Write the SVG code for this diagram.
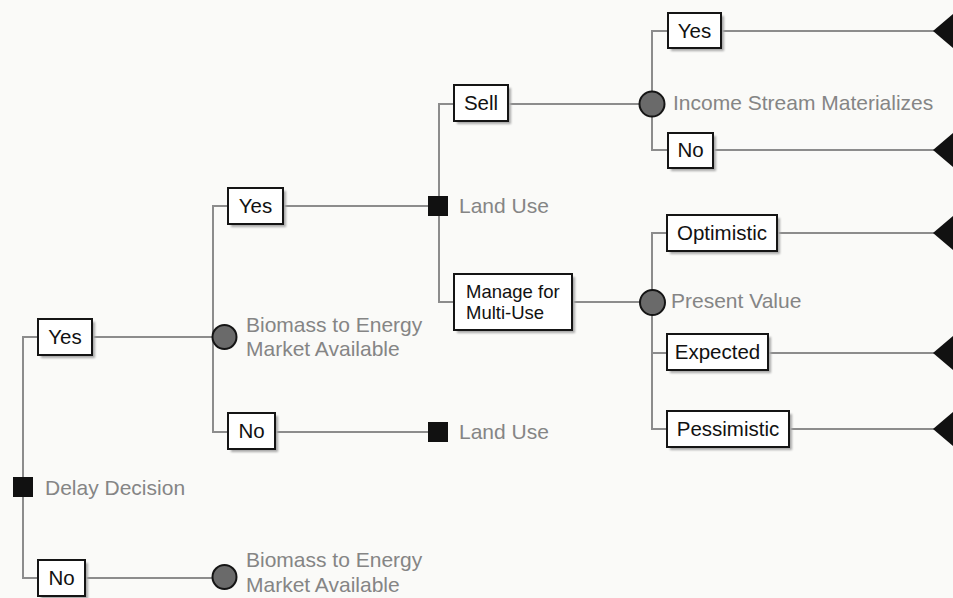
<svg xmlns="http://www.w3.org/2000/svg" width="953" height="598" viewBox="0 0 953 598">
  <style>
    .bg { fill: #fafaf8; }
    .wire { fill: none; stroke: #8c8c8c; stroke-width: 2; }
    .box { fill: #ffffff; stroke: #151515; stroke-width: 2; }
    .shadow { fill: #a8a8a8; }
    .label { font-family: "Liberation Sans", Arial, sans-serif; font-size: 20.5px; fill: #111111; text-anchor: middle; }
    .small { font-size: 18.5px; text-anchor: start; }
    .note { font-family: "Liberation Sans", Arial, sans-serif; font-size: 21px; fill: #858585; }
    .decision { fill: #111111; }
    .chance { fill: #6a6a6a; stroke: #151515; stroke-width: 2; }
    .end { fill: #111111; }
  </style>
  <defs>
    <filter id="soft" x="-10%" y="-10%" width="130%" height="130%">
      <feGaussianBlur stdDeviation="0.8"/>
    </filter>
  </defs>
  <rect class="bg" x="0" y="0" width="953" height="598"/>

  <g id="connectors">
    <!-- Delay Decision branches -->
    <path class="wire" d="M38,337 H23 V578 H38"/>
    <path class="wire" d="M92,337 H212"/>
    <path class="wire" d="M85,578 H212"/>
    <!-- Biomass market (upper) branches -->
    <path class="wire" d="M228,206 H213 V432 H228"/>
    <path class="wire" d="M283,206 H428"/>
    <path class="wire" d="M275,432 H428"/>
    <!-- Land Use branches -->
    <path class="wire" d="M454,104 H439 V302 H454"/>
    <path class="wire" d="M508,104 H640"/>
    <path class="wire" d="M572,302 H640"/>
    <!-- Income stream branches -->
    <path class="wire" d="M668,31 H652 V150 H668"/>
    <path class="wire" d="M721,31 H935"/>
    <path class="wire" d="M713,150 H935"/>
    <!-- Present value branches -->
    <path class="wire" d="M667,233 H652 V429 H667"/>
    <path class="wire" d="M667,353 H652"/>
    <path class="wire" d="M777,233 H935"/>
    <path class="wire" d="M768,353 H935"/>
    <path class="wire" d="M789,429 H935"/>
  </g>

  <!-- Decision nodes -->
  <g id="delay-decision">
    <rect class="decision" x="13" y="477" width="20" height="20"/>
    <text class="note" x="45" y="495">Delay Decision</text>
  </g>
  <g id="land-use-upper">
    <rect class="decision" x="428" y="196" width="20" height="20"/>
    <text class="note" x="459" y="213">Land Use</text>
  </g>
  <g id="land-use-lower">
    <rect class="decision" x="428" y="422" width="20" height="20"/>
    <text class="note" x="459" y="439">Land Use</text>
  </g>

  <!-- Chance nodes -->
  <g id="biomass-upper">
    <circle class="chance" cx="224.5" cy="337" r="12"/>
    <text class="note" x="246" y="332">Biomass to Energy</text>
    <text class="note" x="246" y="356">Market Available</text>
  </g>
  <g id="biomass-lower">
    <circle class="chance" cx="224.5" cy="577" r="12"/>
    <text class="note" x="246" y="567">Biomass to Energy</text>
    <text class="note" x="246" y="592">Market Available</text>
  </g>
  <g id="income-stream">
    <circle class="chance" cx="652" cy="104" r="12.5"/>
    <text class="note" x="673" y="110">Income Stream Materializes</text>
  </g>
  <g id="present-value">
    <circle class="chance" cx="652.5" cy="302.5" r="12.5"/>
    <text class="note" x="671" y="308">Present Value</text>
  </g>

  <!-- Branch labels -->
  <g id="delay-yes">
    <rect class="shadow" x="41" y="322" width="54" height="36" filter="url(#soft)"/>
    <rect class="box" x="38" y="319" width="54" height="36"/>
    <text class="label" x="65" y="344">Yes</text>
  </g>
  <g id="delay-no">
    <rect class="shadow" x="41" y="563" width="47" height="36" filter="url(#soft)"/>
    <rect class="box" x="38" y="560" width="47" height="36"/>
    <text class="label" x="61.5" y="585">No</text>
  </g>
  <g id="market-yes">
    <rect class="shadow" x="231" y="191" width="55" height="36" filter="url(#soft)"/>
    <rect class="box" x="228" y="188" width="55" height="36"/>
    <text class="label" x="255.5" y="213">Yes</text>
  </g>
  <g id="market-no">
    <rect class="shadow" x="231" y="416" width="47" height="36" filter="url(#soft)"/>
    <rect class="box" x="228" y="413" width="47" height="36"/>
    <text class="label" x="251.5" y="438">No</text>
  </g>
  <g id="sell">
    <rect class="shadow" x="457" y="88" width="54" height="36" filter="url(#soft)"/>
    <rect class="box" x="454" y="85" width="54" height="36"/>
    <text class="label" x="481" y="110">Sell</text>
  </g>
  <g id="manage">
    <rect class="shadow" x="457" y="277" width="118" height="56" filter="url(#soft)"/>
    <rect class="box" x="454" y="274" width="118" height="56"/>
    <text class="label small" x="466" y="298">Manage for</text>
    <text class="label small" x="466" y="319">Multi-Use</text>
  </g>
  <g id="income-yes">
    <rect class="shadow" x="671" y="16" width="53" height="35" filter="url(#soft)"/>
    <rect class="box" x="668" y="13" width="53" height="35"/>
    <text class="label" x="694.5" y="38">Yes</text>
  </g>
  <g id="income-no">
    <rect class="shadow" x="671" y="136" width="45" height="35" filter="url(#soft)"/>
    <rect class="box" x="668" y="133" width="45" height="35"/>
    <text class="label" x="690.5" y="157">No</text>
  </g>
  <g id="optimistic">
    <rect class="shadow" x="670" y="218" width="110" height="36" filter="url(#soft)"/>
    <rect class="box" x="667" y="215" width="110" height="36"/>
    <text class="label" x="722" y="240">Optimistic</text>
  </g>
  <g id="expected">
    <rect class="shadow" x="670" y="337" width="101" height="36" filter="url(#soft)"/>
    <rect class="box" x="667" y="334" width="101" height="36"/>
    <text class="label" x="717.5" y="359">Expected</text>
  </g>
  <g id="pessimistic">
    <rect class="shadow" x="670" y="414" width="122" height="36" filter="url(#soft)"/>
    <rect class="box" x="667" y="411" width="122" height="36"/>
    <text class="label" x="728" y="436">Pessimistic</text>
  </g>

  <!-- Terminal nodes -->
  <g id="end-income-yes"><polygon class="end" points="933,31 953,14 973,31 953,48"/></g>
  <g id="end-income-no"><polygon class="end" points="933,150 953,133 973,150 953,167"/></g>
  <g id="end-optimistic"><polygon class="end" points="933,233 953,216 973,233 953,250"/></g>
  <g id="end-expected"><polygon class="end" points="933,353 953,336 973,353 953,370"/></g>
  <g id="end-pessimistic"><polygon class="end" points="933,429 953,412 973,429 953,446"/></g>
</svg>
